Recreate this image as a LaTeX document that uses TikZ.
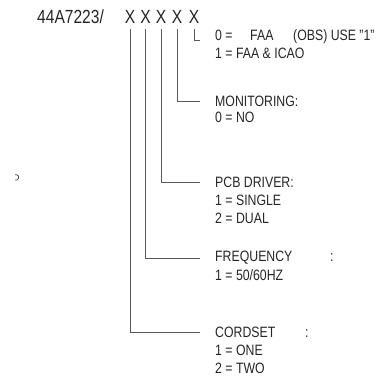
\documentclass[tikz,border=0pt]{standalone}
\usepackage{fontspec}
\setmainfont{Liberation Sans}[FakeStretch=0.82]
\begin{document}
\begin{tikzpicture}[x=1pt,y=-1pt,
  lbl/.style={anchor=west,inner sep=0pt,font=\fontsize{15}{17}\selectfont,text=black!85},
  big/.style={inner sep=0pt,font=\fontsize{19}{21}\selectfont,text=black!85},
  ln/.style={draw=black!65,line width=0.8pt}]
\useasboundingbox (0,0) rectangle (380,386);
% header
\node[big,anchor=west] (code) at (37,17) {44A7223/};
\node[big] (x1) at (130,17) {X};
\node[big] (x2) at (145.5,17) {X};
\node[big] (x3) at (161,17) {X};
\node[big] (x4) at (177,17) {X};
\node[big] (x5) at (194,17) {X};
% labels
\node[lbl] (a1) at (215,37) {\makebox[35pt][l]{0 =}\makebox[43pt][l]{FAA}(OBS) USE "1"};
\node[lbl] (a2) at (215,53) {1 = FAA \& ICAO};
\node[lbl] (b1) at (215,101) {MONITORING:};
\node[lbl] (b2) at (215,117) {0 = NO};
\node[lbl] (c1) at (215,182) {PCB DRIVER:};
\node[lbl] (c2) at (215,200) {1 = SINGLE};
\node[lbl] (c3) at (215,218) {2 = DUAL};
\node[lbl] (d1) at (215,258) {\makebox[115pt][l]{FREQUENCY}:};
\node[lbl] (d2) at (215,275) {1 = 50/60HZ};
\node[lbl] (e1) at (215,332) {\makebox[90pt][l]{CORDSET}:};
\node[lbl] (e2) at (215,350) {1 = ONE};
\node[lbl] (e3) at (215,368) {2 = TWO};
% connectors
\coordinate (aend) at (200,40);
\draw[ln] (x5.south |- 0,29) |- (aend);
\draw[ln] (x4.south |- 0,29) |- ([xshift=-15pt]b1.west);
\draw[ln] (x3.south |- 0,29) |- ([xshift=-15pt]c1.west);
\draw[ln] (x2.south |- 0,29) |- ([xshift=-15pt]d1.west);
\draw[ln] (x1.south |- 0,29) |- ([xshift=-15pt]e1.west);
% stray mark
\draw[black!70,line width=0.7pt] (15,180) arc (110:-110:2.8);
\end{tikzpicture}
\end{document}
